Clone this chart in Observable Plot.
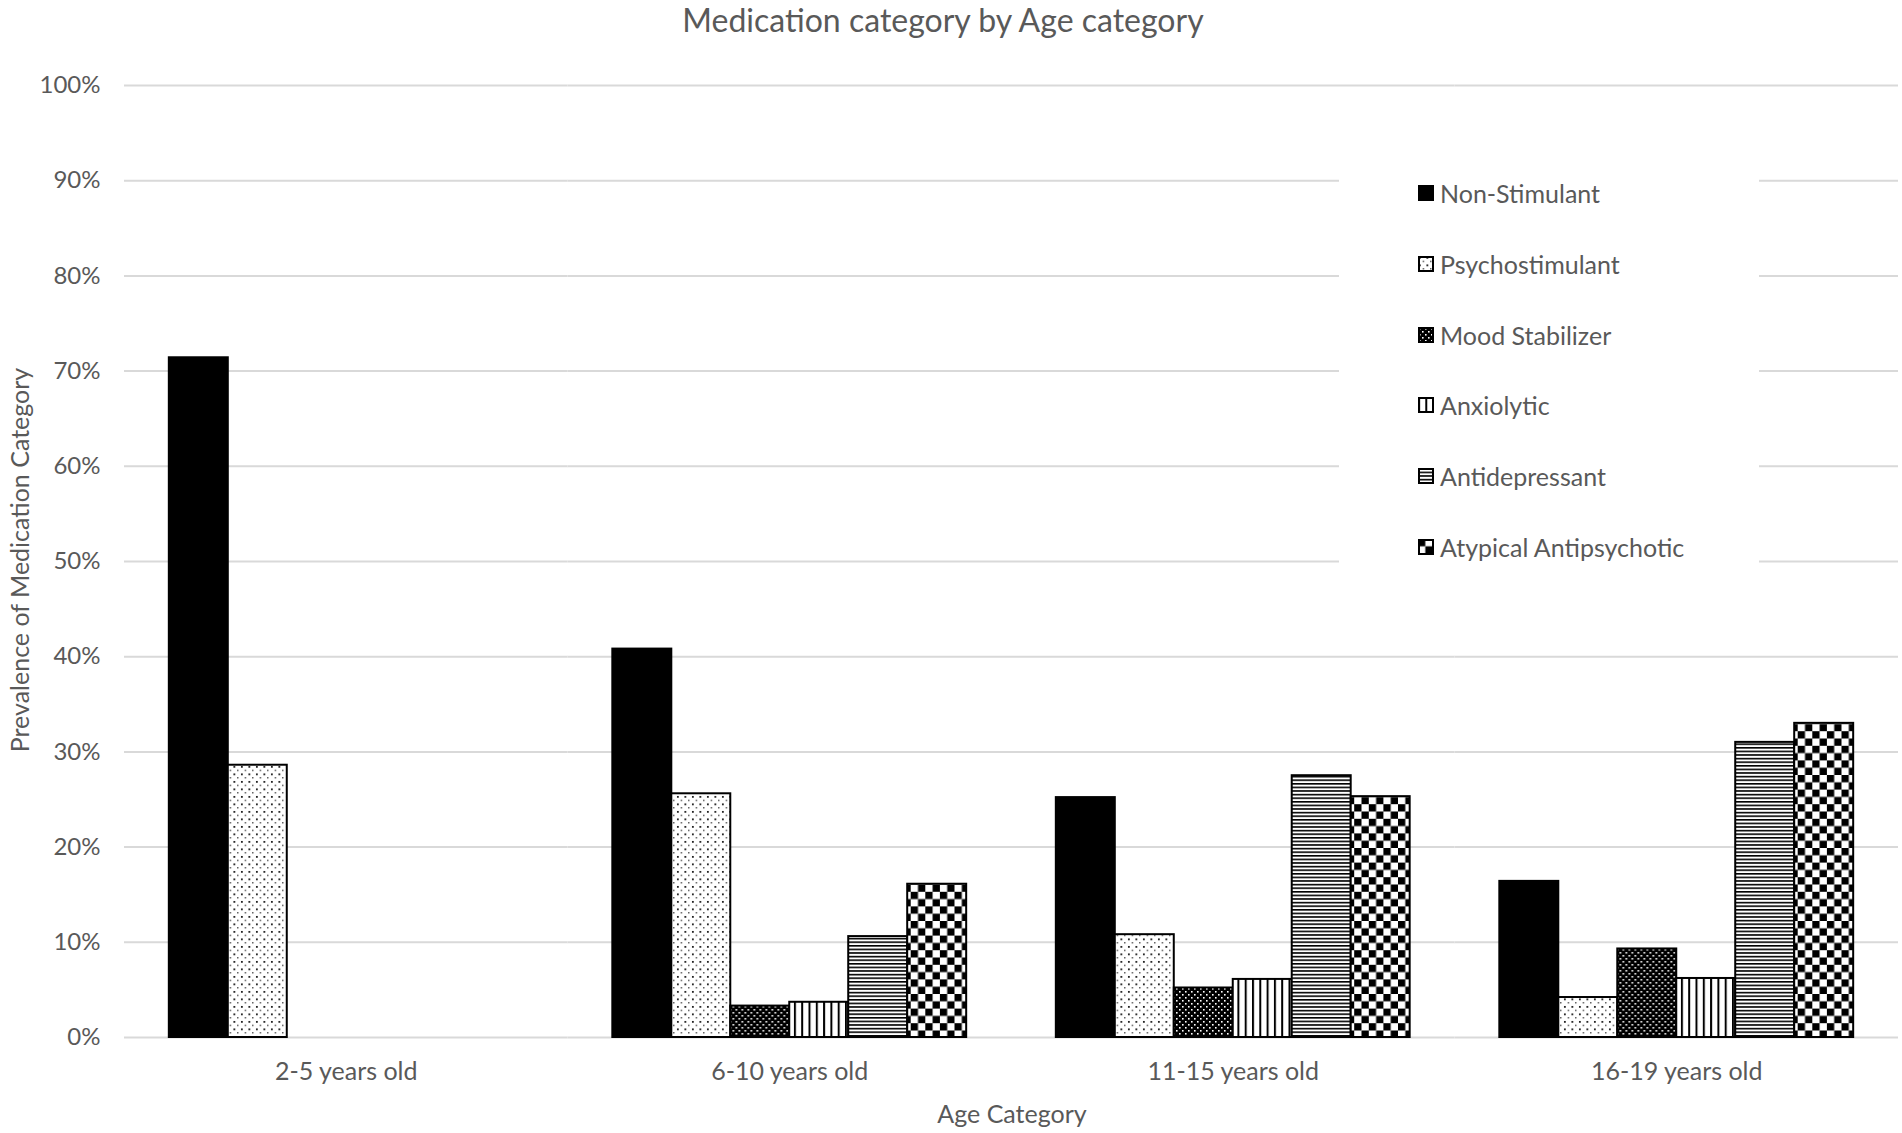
<!DOCTYPE html>
<html>
<head>
<meta charset="utf-8">
<script src="https://cdn.jsdelivr.net/npm/d3@7"></script>
<script src="https://cdn.jsdelivr.net/npm/@observablehq/plot@0.6"></script>
<style>
  html, body { margin: 0; padding: 0; background: #fff; }
  #chart { position: relative; width: 1902px; height: 1133px; font-family: Lato, "Open Sans", sans-serif; color: #595959; overflow: hidden; }
  #title { position: absolute; left: 0; top: 4px; width: 1886px; text-align: center; font-size: 32px; line-height: 32px; }
  #plot { position: absolute; left: 0; top: 45px; }
  #ytitle { position: absolute; left: 19px; top: 560px; transform: translate(-50%, -50%) rotate(-90deg); white-space: nowrap; font-size: 25px; }
  #xtitle { position: absolute; left: 1012px; top: 1113px; transform: translate(-50%, -50%); white-space: nowrap; font-size: 25px; }
  #legend { position: absolute; left: 1339px; top: 150px; width: 420px; height: 440px; background: #fff; }
  .item { position: absolute; left: 79px; height: 30px; display: flex; align-items: center; font-size: 25px; white-space: nowrap; }
  .item svg { margin-right: 6px; }
</style>
</head>
<body>
<svg width="0" height="0" style="position:absolute">
  <defs>
    <pattern id="p-psy" patternUnits="userSpaceOnUse" width="7.5" height="7.5">
      <rect width="7.5" height="7.5" fill="#fff"/>
      <rect x="1" y="1" width="1.7" height="1.7" fill="#000"/>
      <rect x="4.75" y="4.75" width="1.2" height="1.2" fill="#000"/>
    </pattern>
    <pattern id="p-mood" patternUnits="userSpaceOnUse" width="6" height="6">
      <rect width="6" height="6" fill="#000"/>
      <rect x="1" y="1" width="1.6" height="1.6" fill="#fff"/>
      <rect x="4" y="4" width="1.6" height="1.6" fill="#fff"/>
    </pattern>
    <pattern id="p-anx" patternUnits="userSpaceOnUse" width="7.3" height="4">
      <rect width="7.3" height="4" fill="#fff"/>
      <rect x="0" y="0" width="2" height="4" fill="#000"/>
    </pattern>
    <pattern id="p-anti" patternUnits="userSpaceOnUse" width="4" height="3.6">
      <rect width="4" height="3.6" fill="#fff"/>
      <rect x="0" y="0" width="4" height="1.6" fill="#000"/>
    </pattern>
    <pattern id="p-atyp" patternUnits="userSpaceOnUse" width="14.6" height="14.6">
      <rect width="14.6" height="14.6" fill="#fff"/>
      <rect x="0" y="0" width="7.3" height="7.3" fill="#000"/>
      <rect x="7.3" y="7.3" width="7.3" height="7.3" fill="#000"/>
    </pattern>
  </defs>
</svg>
<div id="chart">
  <div id="title">Medication category by Age category</div>
  <div id="plot"></div>
  <div id="ytitle">Prevalence of Medication Category</div>
  <div id="xtitle">Age Category</div>
  <div id="legend"></div>
</div>
<script>
// ---- data (percent) ----
const groups = ["2-5 years old", "6-10 years old", "11-15 years old", "16-19 years old"];
const series = ["Non-Stimulant", "Psychostimulant", "Mood Stabilizer", "Anxiolytic", "Antidepressant", "Atypical Antipsychotic"];
const nonStimulant    = [71.4, 40.8, 25.2, 16.4];
const psychostimulant = [28.6, 25.6, 10.8, 4.2];
const moodStabilizer  = [null, 3.3, 5.2, 9.3];
const anxiolytic      = [null, 3.7, 6.1, 6.2];
const antidepressant  = [null, 10.6, 27.5, 31.0];
const atypical        = [null, 16.1, 25.3, 33.0];
const yTicks = [0, 10, 20, 30, 40, 50, 60, 70, 80, 90, 100];
const fills = ["#000", "url(#p-psy)", "url(#p-mood)", "url(#p-anx)", "url(#p-anti)", "url(#p-atyp)"];

const seriesValues = [nonStimulant, psychostimulant, moodStabilizer, anxiolytic, antidepressant, atypical];
const data = [];
groups.forEach((g, gi) => {
  series.forEach((s, si) => {
    const v = seriesValues[si][gi];
    if (v != null) data.push({group: g, series: s, value: v});
  });
});

const plot = Plot.plot({
  width: 1902,
  height: 1088,
  marginLeft: 124,
  marginRight: 4,
  marginTop: 40,
  marginBottom: 96,
  style: {fontFamily: "Lato, 'Open Sans', sans-serif", color: "#595959", background: "#fff"},
  fx: {domain: groups, paddingInner: 0, paddingOuter: 0, round: false},
  x: {domain: series, paddingInner: 0, paddingOuter: 0.76, round: false, axis: null},
  y: {domain: [0, 100]},
  color: {domain: series, range: fills},
  marks: [
    Plot.gridY(yTicks, {stroke: "#d9d9d9", strokeOpacity: 1, strokeWidth: 2}),
    Plot.barY(data, {fx: "group", x: "series", y: "value", fill: "series", stroke: "#000", strokeWidth: 2}),
    Plot.axisY({ticks: yTicks, tickFormat: d => d + "%", tickSize: 0, tickPadding: 24, fontSize: 24, label: null}),
    Plot.axisFx({anchor: "bottom", tickSize: 0, tickPadding: 25, fontSize: 25, label: null})
  ]
});
document.getElementById("plot").appendChild(plot);

// legend
const legend = document.getElementById("legend");
const centers = [43, 114, 185, 255, 326, 397];
series.forEach((s, i) => {
  const item = document.createElement("div");
  item.className = "item";
  item.style.top = (centers[i] - 15) + "px";
  item.innerHTML = `<svg width="16" height="16"><rect x="1" y="1" width="14" height="14" fill="${fills[i]}" stroke="#000" stroke-width="2"/></svg><span>${s}</span>`;
  legend.appendChild(item);
});
</script>
</body>
</html>
